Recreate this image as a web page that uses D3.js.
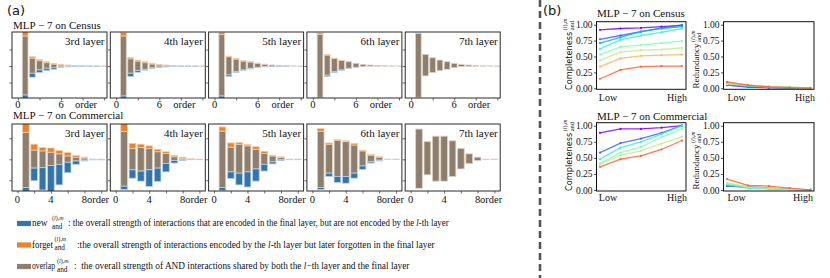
<!DOCTYPE html>
<html><head><meta charset="utf-8">
<script src="https://cdn.jsdelivr.net/npm/d3@7"></script>
<style>body{margin:0;background:#fff} svg{display:block}</style>
</head><body>
<svg id="c" width="830" height="278"></svg>
<script>
// ---------------- DATA ----------------
const layers = ["3rd layer", "4th layer", "5th layer", "6th layer", "7th layer"];
const censusOrders = [1, 2, 3, 4, 5, 6, 7, 8, 9, 10, 11, 12];
const commercialOrders = [1, 2, 3, 4, 5, 6, 7, 8, 9, 10];
const censusTickLabels = ["0", "6"];
const commercialTickLabels = ["0", "4", "8"];

// census: rows = layers (3rd..7th), cols = order 1..12
const censusOverlapPos = [
  [0.91, 0.24, 0.16, 0.10, 0.06, 0.03, 0.02, 0.01, 0.005, 0.005, 0.003, 0.002],
  [0.91, 0.22, 0.15, 0.10, 0.06, 0.03, 0.02, 0.01, 0.005, 0.005, 0.003, 0.002],
  [0.95, 0.28, 0.21, 0.15, 0.12, 0.08, 0.05, 0.03, 0.02, 0.01, 0.005, 0.002],
  [0.96, 0.33, 0.23, 0.17, 0.13, 0.08, 0.05, 0.03, 0.02, 0.01, 0.005, 0.002],
  [0.99, 0.35, 0.25, 0.18, 0.13, 0.08, 0.05, 0.03, 0.02, 0.01, 0.005, 0.002]
];
const censusForget = [
  [0.15, 0.04, 0.04, 0.03, 0.02, 0.02, 0.01, 0.005, 0, 0, 0, 0],
  [0.10, 0.04, 0.03, 0.03, 0.02, 0.01, 0.01, 0.005, 0, 0, 0, 0],
  [0.06, 0.02, 0.01, 0.01, 0.01, 0.005, 0.005, 0, 0, 0, 0, 0],
  [0.04, 0.01, 0.01, 0.005, 0.005, 0, 0, 0, 0, 0, 0, 0],
  [0, 0, 0, 0, 0, 0, 0, 0, 0, 0, 0, 0]
];
const censusOverlapNeg = [
  [0.88, 0.22, 0.12, 0.07, 0.05, 0.02, 0.01, 0.005, 0.003, 0.003, 0.002, 0.002],
  [0.91, 0.22, 0.14, 0.10, 0.05, 0.03, 0.02, 0.01, 0.005, 0.003, 0.002, 0.002],
  [0.91, 0.27, 0.17, 0.12, 0.07, 0.04, 0.02, 0.01, 0.01, 0.005, 0.003, 0.002],
  [0.95, 0.28, 0.17, 0.12, 0.07, 0.04, 0.02, 0.01, 0.01, 0.005, 0.003, 0.002],
  [0.95, 0.30, 0.20, 0.14, 0.10, 0.05, 0.02, 0.01, 0.01, 0.005, 0.003, 0.002]
];
const censusNew = [
  [0.12, 0.12, 0.08, 0.07, 0.05, 0.03, 0.02, 0.015, 0.01, 0.008, 0.005, 0],
  [0.10, 0.10, 0.05, 0.03, 0.03, 0.01, 0.01, 0.005, 0.005, 0.005, 0.003, 0],
  [0.10, 0.05, 0.03, 0.02, 0.02, 0.01, 0.005, 0.005, 0.003, 0.002, 0, 0],
  [0.05, 0.04, 0.03, 0.01, 0.005, 0.005, 0, 0, 0, 0, 0, 0],
  [0, 0, 0, 0, 0, 0, 0, 0, 0, 0, 0, 0]
];

// commercial: rows = layers, cols = order 1..10
const commercialOverlapPos = [
  [0.64, 0.22, 0.20, 0.17, 0.13, 0.08, 0.05, 0.03, 0.005, 0.005],
  [0.66, 0.26, 0.28, 0.26, 0.18, 0.14, 0.06, 0.02, 0.005, 0.005],
  [0.67, 0.29, 0.36, 0.32, 0.24, 0.14, 0.08, 0.04, 0.005, 0.005],
  [0.67, 0.36, 0.45, 0.42, 0.34, 0.20, 0.10, 0.05, 0.005, 0.005],
  [0.72, 0.42, 0.55, 0.55, 0.44, 0.26, 0.13, 0.05, 0.005, 0.005]
];
const commercialForget = [
  [0.25, 0.14, 0.08, 0.10, 0.08, 0.08, 0.04, 0.02, 0, 0],
  [0.20, 0.12, 0.08, 0.06, 0.06, 0.04, 0.03, 0.03, 0.005, 0],
  [0.10, 0.10, 0.04, 0.03, 0.06, 0.05, 0.02, 0.02, 0, 0],
  [0.06, 0.03, 0.02, 0.02, 0.04, 0.02, 0.02, 0.01, 0, 0],
  [0, 0, 0, 0, 0, 0, 0, 0, 0, 0]
];
const commercialOverlapNeg = [
  [0.67, 0.21, 0.20, 0.15, 0.12, 0.07, 0.04, 0.02, 0.005, 0.005],
  [0.64, 0.25, 0.28, 0.25, 0.21, 0.10, 0.03, 0.01, 0.005, 0.005],
  [0.67, 0.30, 0.33, 0.30, 0.23, 0.12, 0.06, 0.01, 0.005, 0.005],
  [0.67, 0.33, 0.41, 0.41, 0.33, 0.16, 0.06, 0.02, 0.005, 0.005],
  [0.69, 0.37, 0.52, 0.52, 0.41, 0.23, 0.10, 0.03, 0.005, 0.005]
];
const commercialNew = [
  [0.12, 0.30, 0.53, 0.62, 0.49, 0.25, 0.08, 0.02, 0.01, 0.01],
  [0.08, 0.20, 0.24, 0.40, 0.32, 0.20, 0.06, 0.02, 0.005, 0.005],
  [0.07, 0.16, 0.28, 0.36, 0.29, 0.16, 0.05, 0.02, 0.005, 0.005],
  [0.05, 0.08, 0.14, 0.16, 0.12, 0.08, 0.03, 0.02, 0, 0],
  [0, 0, 0, 0, 0, 0, 0, 0, 0, 0]
];

// panel (b): x positions Low..High (5 points), one row per line
const levelLabels = ["Low", "High"];
const yTickLabels = ["0.00", "0.25", "0.50", "0.75", "1.00"];
const censusCompleteness = [
  [0.92, 0.94, 0.95, 0.97, 0.99],
  [0.77, 0.83, 0.89, 0.95, 0.995],
  [0.71, 0.80, 0.89, 0.94, 0.97],
  [0.62, 0.76, 0.83, 0.88, 0.94],
  [0.53, 0.65, 0.68, 0.71, 0.74],
  [0.44, 0.57, 0.60, 0.61, 0.635],
  [0.34, 0.47, 0.51, 0.52, 0.53],
  [0.15, 0.29, 0.34, 0.35, 0.35]
];
const censusRedundancy = [
  [0.05, 0.02, 0.01, 0.005, 0.002],
  [0.06, 0.025, 0.01, 0.005, 0.002],
  [0.05, 0.03, 0.015, 0.008, 0.003],
  [0.07, 0.04, 0.02, 0.01, 0.004],
  [0.08, 0.05, 0.025, 0.015, 0.005],
  [0.07, 0.05, 0.03, 0.02, 0.006],
  [0.09, 0.05, 0.025, 0.015, 0.005],
  [0.10, 0.05, 0.02, 0.01, 0.003]
];
const commercialCompleteness = [
  [0.89, 0.95, 0.95, 0.97, 1.0],
  [0.58, 0.73, 0.80, 0.89, 1.0],
  [0.48, 0.66, 0.75, 0.87, 1.0],
  [0.41, 0.58, 0.67, 0.82, 0.95],
  [0.40, 0.54, 0.61, 0.72, 0.83],
  [0.36, 0.48, 0.53, 0.63, 0.77]
];
const commercialRedundancy = [
  [0.07, 0.05, 0.03, 0.01, 0.0],
  [0.06, 0.04, 0.02, 0.01, 0.0],
  [0.08, 0.03, 0.02, 0.01, 0.0],
  [0.10, 0.04, 0.02, 0.01, 0.0],
  [0.11, 0.05, 0.03, 0.01, 0.0],
  [0.17, 0.07, 0.06, 0.03, 0.0]
];

// ---------------- DRAWING ----------------
const svg = d3.select("#c");
const SERIF = "'Liberation Serif','Times New Roman',serif";
const SANS = "'DejaVu Sans',sans-serif";
const BLUE = "#3574a6", ORANGE = "#e8832b", BROWN = "#8d7e6d";
const BLUE_E = "#b9d2e8", ORANGE_E = "#f6cba4", BROWN_E = "#ddd3c8";

function txt(x, y, s, size, fam, anchor) {
  return svg.append("text").attr("x", x).attr("y", y).text(s)
    .style("font-family", fam).style("font-size", size + "px")
    .attr("text-anchor", anchor || "start").attr("fill", "#111");
}

// (a) label
txt(7, 15, "(a)", 13, SANS);
// (b) label
txt(543, 15, "(b)", 13, SANS);

// dashed divider
svg.append("line").attr("x1", 540).attr("x2", 540).attr("y1", 0).attr("y2", 278)
  .attr("stroke", "#555").attr("stroke-width", 2.6).attr("stroke-dasharray", "7,4");

const boxLefts = [12, 110.3, 208.6, 306.9, 405.2];
const BOXW = 95;

const rows = [
  { title: "MLP − 7 on Census", titleY: 29.3, top: 32, bottom: 98, base: 66, unit: 33,
    orders: censusOrders, dom: [-0.83, 12.4], ticks: [0, 3, 6, 9, 12],
    labelVals: [0, 6], labels: censusTickLabels, labelY: 107.5, orderX: 74,
    op: censusOverlapPos, f: censusForget, on: censusOverlapNeg, n: censusNew, id: "ce" },
  { title: "MLP − 7 on Commercial", titleY: 118.5, top: 124, bottom: 191, base: 159.3, unit: 42,
    orders: commercialOrders, dom: [-0.65, 10.7], ticks: [0, 2, 4, 6, 8, 10],
    labelVals: [0, 4, 8], labels: commercialTickLabels, labelY: 202.5, orderX: 86,
    op: commercialOverlapPos, f: commercialForget, on: commercialOverlapNeg, n: commercialNew, id: "co" }
];

const defs = svg.append("defs");

rows.forEach(row => {
  txt(13, row.titleY, row.title, 11, SERIF);
  layers.forEach((lab, li) => {
    const left = boxLefts[li];
    const x = d3.scaleLinear().domain(row.dom).range([left, left + BOXW]);
    const y = d3.scaleLinear()
      .domain([(row.base - row.bottom) / row.unit, (row.base - row.top) / row.unit])
      .range([row.bottom, row.top]);
    const cid = "clip-" + row.id + li;
    defs.append("clipPath").attr("id", cid).append("rect")
      .attr("x", left).attr("y", row.top).attr("width", BOXW).attr("height", row.bottom - row.top);
    const g = svg.append("g").attr("clip-path", `url(#${cid})`);
    const bw = x(0.8) - x(0);
    row.orders.forEach((o, i) => {
      const op = row.op[li][i], f = row.f[li][i], on = row.on[li][i], n = row.n[li][i];
      const x0 = x(o) - bw / 2;
      g.append("rect").attr("x", x0).attr("width", bw)
        .attr("y", y(op)).attr("height", Math.max(0.3, y(-on) - y(op)))
        .attr("fill", BROWN).attr("stroke", BROWN_E).attr("stroke-width", 0.8);
      if (f > 0) g.append("rect").attr("x", x0).attr("width", bw)
        .attr("y", y(op + f)).attr("height", y(op) - y(op + f))
        .attr("fill", ORANGE).attr("stroke", ORANGE_E).attr("stroke-width", 0.8);
      if (n > 0) g.append("rect").attr("x", x0).attr("width", bw)
        .attr("y", y(-on)).attr("height", y(-on - n) - y(-on))
        .attr("fill", BLUE).attr("stroke", BLUE_E).attr("stroke-width", 0.8);
    });
    // axes (ticks only)
    const ax = svg.append("g").attr("transform", `translate(${left},0)`)
      .call(d3.axisLeft(y).tickValues([-0.5, 0, 0.5]).tickSize(2.5).tickFormat(""));
    ax.select(".domain").remove();
    ax.selectAll("line").attr("stroke", "#444").attr("stroke-width", 0.8);
    const bx = svg.append("g").attr("transform", `translate(0,${row.bottom})`)
      .call(d3.axisBottom(x).tickValues(row.ticks).tickSize(2.5).tickFormat(""));
    bx.select(".domain").remove();
    bx.selectAll("line").attr("stroke", "#444").attr("stroke-width", 0.8);
    // frame
    svg.append("rect").attr("x", left).attr("y", row.top).attr("width", BOXW)
      .attr("height", row.bottom - row.top).attr("fill", "none")
      .attr("stroke", "#2a2a2a").attr("stroke-width", 1);
    // layer label
    txt(left + BOXW - 2.5, row.top + 12.5, lab, 11, SERIF, "end");
    // tick labels
    row.labelVals.forEach((v, k) => txt(x(v), row.labelY, row.labels[k], 10.5, SERIF, "middle"));
    txt(left + row.orderX, row.labelY, "order", 10.5, SERIF, "middle");
  });
});

// ---------- math helper: stacked sup (l),m and sub "and" ----------
function stack(parent, x, y, supSize, subSize, supDy, subDy) {
  const sup = parent.append("text").attr("x", x).attr("y", y - supDy)
    .style("font-family", SERIF).style("font-size", supSize + "px").attr("fill", "#111");
  sup.append("tspan").text("(");
  sup.append("tspan").text("l").style("font-style", "italic");
  sup.append("tspan").text("),");
  sup.append("tspan").text("m").style("font-style", "italic");
  parent.append("text").attr("x", x).attr("y", y + subDy).text("and")
    .style("font-family", SERIF).style("font-size", subSize + "px").attr("fill", "#111");
}

// text squeezed horizontally (via a group scale) so it spans a target width
function squeezed(x, y, size, target, build) {
  const g = svg.append("g").attr("transform", `translate(${x},${y})`);
  const t = g.append("text").attr("x", 0).attr("y", 0)
    .style("font-family", SERIF).style("font-size", size + "px").attr("fill", "#111")
    .attr("xml:space", "preserve").style("white-space", "pre");
  build(t);
  const w = t.node().getComputedTextLength();
  const s = Math.min(1, target / w);
  g.attr("transform", `translate(${x},${y}) scale(${s.toFixed(4)},1)`);
  return g;
}

// ---------- legend ----------
const legendItems = [
  { word: "new", wordEnd: 50, color: BLUE, cy: 223.5, mathX: 52, restX: 68, endX: 449,
    rest: [[": the overall strength of interactions that are encoded in the final layer, but are not encoded by the ", false], ["l", true], ["-th layer", false]] },
  { word: "forget", wordEnd: 53, color: ORANGE, cy: 245, mathX: 54.5, restX: 77, endX: 436,
    rest: [[":the overall strength of interactions encoded by the ", false], ["l", true], ["-th layer but later forgotten in the final layer", false]] },
  { word: "overlap", wordEnd: 55, color: BROWN, cy: 266.5, mathX: 57, restX: 74, endX: 428,
    rest: [[":  the overall strength of AND interactions shared by both the ", false], ["l", true], ["−th layer and the final layer", false]] }
];
legendItems.forEach(it => {
  svg.append("rect").attr("x", 17).attr("y", it.cy - 2.6).attr("width", 14).attr("height", 5.2).attr("fill", it.color);
  const base = it.cy + 2.5;
  squeezed(32, base, 9.3, it.wordEnd - 32, t => t.text(it.word));
  const lg = svg.append("g");
  stack(lg, it.mathX, base, 6, 7.2, 6.3, 2.6);
  squeezed(it.restX, base, 9.3, it.endX - it.restX, t => {
    it.rest.forEach(([s, ital]) => {
      const sp = t.append("tspan").text(s);
      if (ital) sp.style("font-style", "italic");
    });
  });
});

// ---------- panel (b) ----------
function rainbow(t) {
  const r = Math.min(1, Math.abs(2 * t - 0.5)), g = Math.sin(Math.PI * t), b = Math.cos(Math.PI * t / 2);
  return d3.rgb(r * 255, g * 255, b * 255).formatHex();
}
const censusTs = d3.range(8).map(i => i / 8);
const commercialTs = [0, 1 / 8, 3 / 8, 4 / 8, 5 / 8, 7 / 8];

const bPlots = [
  { x0: 596.5, x1: 686, px: [600, 682], top: 21.7, bottom: 89.3, data: censusCompleteness, ts: censusTs,
    label: "Completeness", labFont: SANS, labSize: 8.2, labX: 571.5, labY: 90, low: 608, high: 677, lhY: 100.5 },
  { x0: 723.5, x1: 814, px: [727, 810.5], top: 21.7, bottom: 89.3, data: censusRedundancy, ts: censusTs,
    label: "Redundancy", labFont: SERIF, labSize: 9, labX: 699, labY: 88.5, low: 736.7, high: 805, lhY: 100.5 },
  { x0: 596.5, x1: 686, px: [600, 682], top: 122.7, bottom: 191, data: commercialCompleteness, ts: commercialTs,
    label: "Completeness", labFont: SANS, labSize: 8.2, labX: 571.5, labY: 191, low: 608, high: 677, lhY: 200.5 },
  { x0: 723.5, x1: 814, px: [727, 810.5], top: 122.7, bottom: 191, data: commercialRedundancy, ts: commercialTs,
    label: "Redundancy", labFont: SERIF, labSize: 9, labX: 699, labY: 189.5, low: 736.7, high: 803, lhY: 200.5 }
];
txt(597, 17.3, "MLP − 7 on Census", 11, SERIF);
txt(597, 119.8, "MLP − 7 on Commercial", 11, SERIF);

bPlots.forEach(p => {
  const x = d3.scaleLinear().domain([0, 4]).range(p.px);
  const y = d3.scaleLinear().domain([-0.016, 1.047]).range([p.bottom, p.top]);
  const yticks = [0, 0.25, 0.5, 0.75, 1.0];
  const ax = svg.append("g").attr("transform", `translate(${p.x0},0)`)
    .call(d3.axisLeft(y).tickValues(yticks).tickSize(2.5).tickPadding(1.5)
      .tickFormat((d, i) => yTickLabels[i]));
  ax.select(".domain").remove();
  ax.selectAll("line").attr("stroke", "#222").attr("stroke-width", 0.8);
  ax.selectAll("text").style("font-family", SERIF).style("font-size", "9.5px").attr("fill", "#111");
  const line = d3.line().x((d, i) => x(i)).y(d => y(d));
  p.data.forEach((s, k) => {
    const c = rainbow(p.ts[k]);
    svg.append("path").attr("d", line(s)).attr("fill", "none").attr("stroke", c)
      .attr("stroke-width", 1.3).attr("stroke-opacity", 0.85);
    s.forEach((v, i) => svg.append("circle").attr("cx", x(i)).attr("cy", y(v)).attr("r", 1.1).attr("fill", c));
  });
  svg.append("rect").attr("x", p.x0).attr("y", p.top).attr("width", p.x1 - p.x0)
    .attr("height", p.bottom - p.top).attr("fill", "none").attr("stroke", "#111").attr("stroke-width", 1);
  txt(p.low, p.lhY, levelLabels[0], 10, SERIF, "middle");
  txt(p.high, p.lhY, levelLabels[1], 10, SERIF, "middle");
  // rotated label with stacked math
  const g = svg.append("g").attr("transform", `translate(${p.labX},${p.labY}) rotate(-90)`);
  const m = g.append("text").attr("x", 0).attr("y", 0).text(p.label)
    .style("font-family", p.labFont).style("font-size", p.labSize + "px").attr("fill", "#111");
  const w = m.node().getComputedTextLength();
  stack(g, w + 1.5, 0, 6, 6.5, 4.5, 2.2);
});
</script>
</body></html>
